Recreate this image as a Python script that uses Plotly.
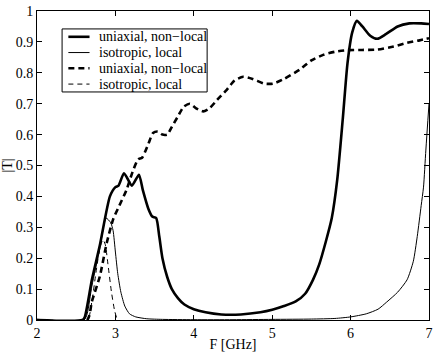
import plotly.graph_objects as go

# frequency [GHz] and |T|
f_uni_nl = [2.0, 2.58, 2.61, 2.70, 2.80, 2.93, 3.00, 3.04, 3.11, 3.21, 3.30, 3.35, 3.42, 3.47,
            3.52, 3.56, 3.60, 3.66, 3.72, 3.80, 3.88, 4.0, 4.15, 4.35, 4.6, 4.85, 5.0, 5.15,
            5.3, 5.42, 5.52, 5.60, 5.68, 5.76, 5.83, 5.90, 5.96, 6.02, 6.08, 6.15, 6.25,
            6.34, 6.45, 6.6, 6.75, 6.9, 7.0]
t_uni_nl = [0.0, 0.0, 0.01, 0.13, 0.24, 0.40, 0.43, 0.435, 0.475, 0.435, 0.47, 0.42, 0.36, 0.335,
            0.33, 0.27, 0.20, 0.14, 0.10, 0.07, 0.05, 0.035, 0.025, 0.018, 0.018, 0.025, 0.033, 0.045,
            0.06, 0.085, 0.13, 0.18, 0.25, 0.33, 0.455, 0.65, 0.83, 0.93, 0.968, 0.95, 0.92,
            0.91, 0.925, 0.95, 0.96, 0.96, 0.958]

f_iso_l = [2.0, 2.6, 2.64, 2.70, 2.80, 2.88, 2.94, 2.97, 3.00, 3.03, 3.07, 3.12, 3.18, 3.26,
           3.4, 3.6, 4.0, 4.5, 5.0, 5.5, 5.8, 6.0, 6.2, 6.35, 6.46, 6.6, 6.72, 6.8, 6.85,
           6.9, 6.93, 6.96, 7.0]
t_iso_l = [0.0, 0.0, 0.02, 0.11, 0.23, 0.33, 0.315, 0.29, 0.22, 0.15, 0.09, 0.045, 0.02, 0.01,
           0.004, 0.002, 0.001, 0.001, 0.002, 0.003, 0.005, 0.01, 0.02, 0.035, 0.058, 0.09, 0.13,
           0.19, 0.27, 0.37, 0.43, 0.55, 0.70]

f_uni_nl_d = [2.0, 2.64, 2.70, 2.80, 2.89, 2.97, 3.05, 3.14, 3.22, 3.29, 3.34, 3.42, 3.48,
              3.54, 3.60, 3.66, 3.72, 3.80, 3.87, 3.95, 4.03, 4.12, 4.2, 4.3, 4.42, 4.52,
              4.63, 4.75, 4.9, 5.01, 5.15, 5.35, 5.5, 5.65, 5.8, 5.95, 6.15, 6.34, 6.55,
              6.72, 6.88, 7.0]
t_uni_nl_d = [0.0, 0.0, 0.06, 0.14, 0.25, 0.325, 0.37, 0.42, 0.48, 0.52, 0.525, 0.57, 0.605,
              0.61, 0.60, 0.60, 0.625, 0.66, 0.69, 0.70, 0.685, 0.675, 0.685, 0.713, 0.745, 0.775,
              0.787, 0.78, 0.765, 0.765, 0.78, 0.81, 0.84, 0.858, 0.868, 0.873, 0.874, 0.875, 0.885,
              0.897, 0.905, 0.912]

f_iso_l_d = [2.0, 2.64, 2.70, 2.75, 2.80, 2.84, 2.87, 2.91, 2.95, 2.99, 3.02, 3.04]
t_iso_l_d = [0.0, 0.0, 0.06, 0.15, 0.23, 0.26, 0.245, 0.17, 0.09, 0.03, 0.005, 0.0]

series = [
    ("uniaxial, non\u2212local", f_uni_nl, t_uni_nl, 2.6, "solid"),
    ("isotropic, local", f_iso_l, t_iso_l, 1.0, "solid"),
    ("uniaxial, non\u2212local", f_uni_nl_d, t_uni_nl_d, 2.6, "6px,4px"),
    ("isotropic, local", f_iso_l_d, t_iso_l_d, 1.0, "5px,4px"),
]

font = "Times New Roman, Liberation Serif, Nimbus Roman, DejaVu Serif, serif"

fig = go.Figure()
for name, fx, ty, w, dash in series:
    fig.add_trace(go.Scatter(x=fx, y=ty, name=name, mode="lines", showlegend=False,
                             line=dict(color="black", width=w, dash=dash,
                                       shape="spline", smoothing=0.6)))

# legend box drawn by hand (plotly's native legend rows are too tall here)
lg_x0, lg_x1, lg_y0, lg_y1 = 0.064, 0.434, 0.942, 0.738
row = (lg_y0 - lg_y1) / len(series)
shapes = [dict(type="rect", xref="paper", yref="paper", x0=lg_x0, x1=lg_x1, y0=lg_y1, y1=lg_y0,
               line=dict(color="black", width=1), fillcolor="white", layer="above")]
annotations = []
for i, (name, fx, ty, w, dash) in enumerate(series):
    yc = lg_y0 - row * (i + 0.5)
    shapes.append(dict(type="line", xref="paper", yref="paper", x0=lg_x0 + 0.016, x1=lg_x0 + 0.07,
                       y0=yc, y1=yc, line=dict(color="black", width=w, dash=dash), layer="above"))
    annotations.append(dict(xref="paper", yref="paper", x=lg_x0 + 0.088, y=yc, text=name,
                            showarrow=False, xanchor="left", yanchor="middle",
                            font=dict(family=font, size=14, color="black")))

axis = dict(showgrid=False, zeroline=False, showline=True, linecolor="black", linewidth=1,
            mirror="ticks", ticks="inside", ticklen=5, tickcolor="black", automargin=False,
            tickfont=dict(family=font, size=14, color="black"))

fig.update_layout(
    width=436, height=352,
    margin=dict(l=37, r=7, t=11, b=32),
    paper_bgcolor="white", plot_bgcolor="white",
    font=dict(family=font, size=14, color="black"),
    shapes=shapes, annotations=annotations,
    xaxis=dict(axis, range=[2, 7], dtick=1,
               title=dict(text="F [GHz]", standoff=0, font=dict(family=font, size=14))),
    yaxis=dict(axis, range=[0, 1], dtick=0.1, tickformat="~g",
               title=dict(text="|T|", standoff=2, font=dict(family=font, size=14))),
)

# the page body has a default 8px margin; drop it so the figure fills the window
fig.write_html("out.html", config={"displayModeBar": False},
               post_script="document.body.style.margin='0px';")
